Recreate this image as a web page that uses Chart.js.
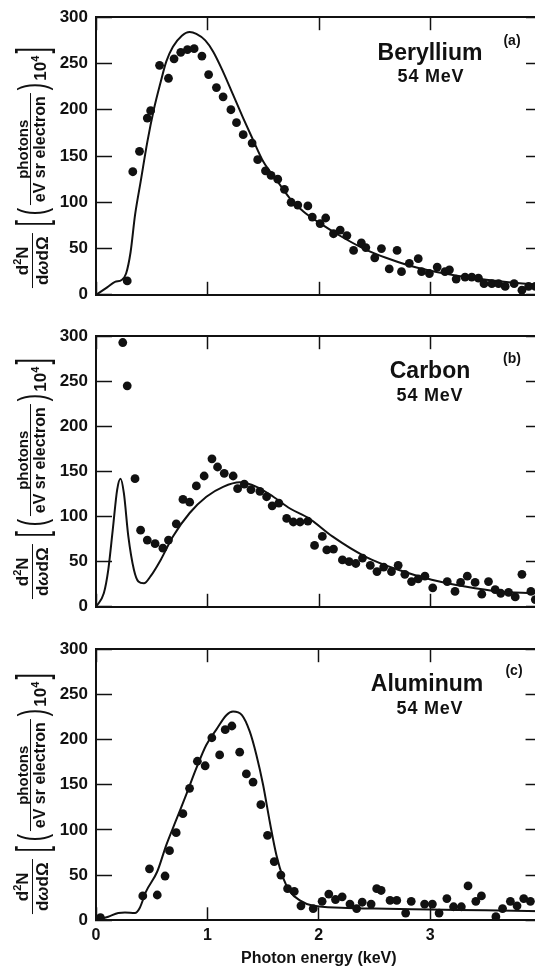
<!DOCTYPE html>
<html lang="en">
<head>
  <meta charset="UTF-8" />
  <title>Photon spectra, 54 MeV electrons</title>
  <script src="https://cdn.jsdelivr.net/npm/chart.js"></script>
  <style>
    * { box-sizing: border-box; }
    body { margin: 0; background: #fff; }
    #wrap {
      position: relative;
      width: 535px;
      height: 968px;
      overflow: hidden;
      background: #fff;
      color: #111;
      font-family: "Liberation Sans", Arial, Helvetica, sans-serif;
    }
    .panel { position: absolute; left: 0; top: 0; }
    .panel canvas { display: block; }
    .note {
      position: absolute;
      transform: translate(-50%, -50%);
      font-weight: bold;
      line-height: 1;
      white-space: nowrap;
    }
    .name { font-size: 23px; }
    .energy { font-size: 18px; letter-spacing: 0.8px; }
    .tag { font-size: 14px; }
    .ylab {
      position: absolute;
      left: 32px;
      transform: translate(-50%, -50%) rotate(-90deg);
      display: flex;
      align-items: center;
      white-space: nowrap;
      font-weight: bold;
    }
    .frac {
      display: flex;
      flex-direction: column;
      align-items: center;
      line-height: 1.05;
    }
    .frac .den { border-top: 1.5px solid #111; padding: 1px 3px 0 3px; }
    .f1 { font-size: 17px; margin-right: 4px; }
    .f2 span:first-child { font-size: 15px; }
    .f2 .den { font-size: 16px; }
    .br { font-size: 42px; font-weight: normal; line-height: 1; transform: scaleX(0.55); }
    .pa { font-size: 38px; font-weight: normal; line-height: 1; transform: scaleX(0.6); }
    .pw { font-size: 17px; align-self: flex-end; margin-bottom: 2px; }
    .pw sup, .f1 sup { font-size: 11px; }
  </style>
</head>
<body>
<div id="wrap">
  <div class="panel" id="panelBe"></div>
  <div class="panel" id="panelC"></div>
  <div class="panel" id="panelAl"></div>

  <div class="note name" style="left:430px; top:52px">Beryllium</div>
  <div class="note energy" style="left:431px; top:76px">54 MeV</div>
  <div class="note tag" style="left:512px; top:40px">(a)</div>

  <div class="note name" style="left:430px; top:370px">Carbon</div>
  <div class="note energy" style="left:430px; top:395px">54 MeV</div>
  <div class="note tag" style="left:512px; top:358px">(b)</div>

  <div class="note name" style="left:427px; top:683px">Aluminum</div>
  <div class="note energy" style="left:430px; top:708px">54 MeV</div>
  <div class="note tag" style="left:514px; top:670px">(c)</div>

  <div class="ylab" style="top:166px">
    <div class="frac f1"><span>d<sup>2</sup>N</span><span class="den">d<i>ω</i>dΩ</span></div>
    <span class="br">[</span><span class="pa">(</span>
    <div class="frac f2"><span>photons</span><span class="den">eV sr electron</span></div>
    <span class="pa">)</span><span class="pw">10<sup>4</sup></span><span class="br">]</span>
  </div>
  <div class="ylab" style="top:477px">
    <div class="frac f1"><span>d<sup>2</sup>N</span><span class="den">d<i>ω</i>dΩ</span></div>
    <span class="br">[</span><span class="pa">(</span>
    <div class="frac f2"><span>photons</span><span class="den">eV sr electron</span></div>
    <span class="pa">)</span><span class="pw">10<sup>4</sup></span><span class="br">]</span>
  </div>
  <div class="ylab" style="top:792px">
    <div class="frac f1"><span>d<sup>2</sup>N</span><span class="den">d<i>ω</i>dΩ</span></div>
    <span class="br">[</span><span class="pa">(</span>
    <div class="frac f2"><span>photons</span><span class="den">eV sr electron</span></div>
    <span class="pa">)</span><span class="pw">10<sup>4</sup></span><span class="br">]</span>
  </div>
</div>

<script>
  // axis settings (keV, photons per eV sr electron x 10^4)
  const xTicks = [0, 1, 2, 3, 4];
  const yTicks = [0, 50, 100, 150, 200, 250, 300];

  // (a) Beryllium: measured points
  const beE = [0.28,0.33,0.39,0.46,0.49,0.57,0.65,0.70,0.76,0.82,0.88,0.95,1.01,1.08,1.14,1.21,1.26,1.32,1.40,1.45,
               1.52,1.57,1.63,1.69,1.75,1.81,1.90,1.94,2.01,2.06,2.13,2.19,2.25,2.31,2.38,2.42,2.50,2.56,2.63,2.70,
               2.74,2.81,2.89,2.92,2.99,3.06,3.13,3.17,3.23,3.31,3.37,3.43,3.48,3.55,3.61,3.67,3.75,3.82,3.88,3.94];
  const beN = [15,133,155,191,199,248,234,255,262,265,266,258,238,224,214,200,186,173,164,146,
               134,129,125,114,100,97,96,84,77,83,66,70,64,48,56,51,40,50,28,48,
               25,34,39,25,23,30,25,27,17,19,19,18,12,12,12,9,12,5,9,9];
  // (a) Beryllium: theory curve
  const beFitE = [0,0.10,0.17,0.23,0.27,0.31,0.35,0.40,0.46,0.52,0.58,0.63,0.69,0.77,0.84,0.90,0.98,1.05,1.14,1.23,
                  1.32,1.41,1.50,1.62,1.74,1.86,2.0,2.2,2.4,2.6,2.8,3.0,3.2,3.4,3.6,3.8,4.0];
  const beFitN = [0,8,14,16,23,46,86,122,165,201,230,252,268,280,284,282,275,263,241,216,
                  191,167,144,124,104,90,78,63,50,40,32,26,21.5,18,15,12.5,10.5];

  // (b) Carbon
  const cE = [0.24,0.28,0.35,0.40,0.46,0.53,0.60,0.65,0.72,0.78,0.84,0.90,0.97,1.04,1.09,1.15,1.23,1.27,1.33,1.39,
              1.47,1.53,1.58,1.64,1.71,1.77,1.83,1.90,1.96,2.03,2.07,2.13,2.21,2.27,2.33,2.39,2.46,2.52,2.58,2.65,
              2.71,2.77,2.83,2.89,2.95,3.02,3.15,3.22,3.27,3.33,3.40,3.46,3.52,3.58,3.63,3.70,3.76,3.82,3.90,3.94];
  const cN = [293,245,142,85,74,70,65,74,92,119,116,134,145,164,155,148,145,131,136,130,
              128,122,112,115,98,94,94,95,68,78,63,64,52,50,48,54,46,39,44,39,
              46,36,28,31,34,21,28,17,27,34,27,14,28,19,15,16,11,36,17,8];
  const cFitE = [0,0.07,0.11,0.15,0.19,0.22,0.25,0.29,0.34,0.38,0.43,0.49,0.58,0.69,0.84,
                 0.99,1.14,1.29,1.44,1.59,1.74,1.91,2.12,2.41,2.71,3.01,3.31,3.61,3.91,4.0];
  const cFitN = [0,15,41,85,130,142,126,78,41,28,26,34,52,78,104,
                 122,133,138,133,122,109,98,78,56,41,30,22.5,17,15,14.5];

  // (c) Aluminum
  const alE = [0.04,0.42,0.48,0.55,0.62,0.66,0.72,0.78,0.84,0.91,0.98,1.04,1.11,1.16,1.22,1.29,1.35,1.41,1.48,1.54,
               1.60,1.66,1.72,1.78,1.84,1.95,2.03,2.09,2.15,2.21,2.28,2.34,2.39,2.47,2.52,2.56,2.64,2.70,2.78,2.83,
               2.95,3.02,3.08,3.15,3.21,3.28,3.34,3.41,3.46,3.59,3.65,3.72,3.78,3.84,3.90];
  const alN = [3,27,57,28,49,77,97,118,146,176,171,202,183,211,215,186,162,153,128,94,
               65,50,35,32,16,13,21,29,23,26,18,13,20,18,35,33,22,22,8,21,
               18,18,8,24,15,15,38,21,27,4,13,21,16,24,21];
  const alFitE = [0,0.11,0.20,0.26,0.35,0.39,0.45,0.55,0.63,0.72,0.81,0.90,0.99,1.08,1.17,1.23,
                  1.31,1.38,1.44,1.50,1.56,1.62,1.68,1.74,1.83,1.95,2.2,2.5,3.0,3.5,4.0];
  const alFitN = [0,4,8,8.5,8,13,32,54,83,111,139,168,194,211,227,231,
                  227,209,183,150,109,72,47,32,22,16,14,13,12,11,10];

  const INK = "#111";
  Chart.defaults.font.family = '"Liberation Sans", Arial, Helvetica, sans-serif';
  Chart.defaults.color = INK;

  function frameAxis(position, min, max, extra) {
    const horiz = position === "top" || position === "bottom";
    return Object.assign({
      type: "linear",
      position,
      min,
      max,
      afterBuildTicks: s => { s.ticks = (horiz ? xTicks : yTicks).map(v => ({ value: v })); },
      ticks: { display: false },
      grid: { drawOnChartArea: false, tickLength: horiz ? -13 : -16, tickWidth: 1.5, tickColor: INK },
      border: { display: true, width: 2, color: INK },
      afterFit: s => { if (horiz) s.height = 0; else s.width = 0; }
    }, extra || {});
  }

  function panelConfig(dotE, dotN, fitE, fitN, showX) {
    const dots = dotE.map((e, i) => ({ x: e, y: dotN[i] }));
    const fit = fitE.map((e, i) => ({ x: e, y: fitN[i] }));

    const xBottom = frameAxis("bottom", 0, 4, {
      ticks: { display: showX, padding: 19, font: { size: 16, weight: "bold" }, color: INK, maxRotation: 0 },
      title: {
        display: showX,
        text: "Photon energy (keV)",
        font: { size: 16, weight: "bold" },
        color: INK,
        padding: { top: 0, bottom: 0 }
      },
      afterFit: s => { s.height = showX ? 47.7 : 0; }
    });

    const yLeft = frameAxis("left", 0, 300, {
      ticks: { display: true, padding: 24, font: { size: 17, weight: "bold" }, color: INK },
      afterFit: s => { s.width = 96; }
    });

    return {
      type: "scatter",
      data: {
        datasets: [
          {
            data: fit,
            showLine: true,
            borderColor: INK,
            borderWidth: 2,
            pointRadius: 0,
            cubicInterpolationMode: "monotone",
            xAxisID: "x",
            yAxisID: "y"
          },
          {
            data: dots,
            pointRadius: 4.4,
            pointBackgroundColor: INK,
            pointBorderWidth: 0,
            xAxisID: "x",
            yAxisID: "y"
          }
        ]
      },
      options: {
        responsive: false,
        maintainAspectRatio: false,
        animation: false,
        layout: { padding: { top: 0, bottom: 0, left: 0, right: 18 } },
        plugins: { legend: { display: false }, tooltip: { enabled: false } },
        scales: {
          x: xBottom,
          x2: frameAxis("top", 0, 4),
          y: yLeft,
          y2: frameAxis("right", 0, 300)
        }
      }
    };
  }

  // draw once, measure the plot area, then redraw with a canvas sized so the
  // plot box sits where the printed one does
  function placePanel(holderId, box, makeConfig) {
    const holder = document.getElementById(holderId);
    let w = 560, h = 340;
    let canvas = document.createElement("canvas");
    canvas.width = w; canvas.height = h;
    holder.appendChild(canvas);
    let chart = new Chart(canvas, makeConfig());
    const a = chart.chartArea;
    w = Math.round(w + (box.right - box.left) - (a.right - a.left));
    h = Math.round(h + (box.bottom - box.top) - (a.bottom - a.top));
    chart.destroy();
    holder.removeChild(canvas);

    canvas = document.createElement("canvas");
    canvas.width = w; canvas.height = h;
    holder.appendChild(canvas);
    chart = new Chart(canvas, makeConfig());
    const b = chart.chartArea;
    holder.style.left = (box.left - b.left) + "px";
    holder.style.top = (box.top - b.top) + "px";
    return chart;
  }

  placePanel("panelBe", { left: 96, right: 541.6, top: 17, bottom: 294.5 },
    () => panelConfig(beE, beN, beFitE, beFitN, false));
  placePanel("panelC", { left: 96, right: 541.6, top: 336.5, bottom: 607 },
    () => panelConfig(cE, cN, cFitE, cFitN, false));
  placePanel("panelAl", { left: 96, right: 541.6, top: 649, bottom: 920.3 },
    () => panelConfig(alE, alN, alFitE, alFitN, true));
</script>
</body>
</html>
